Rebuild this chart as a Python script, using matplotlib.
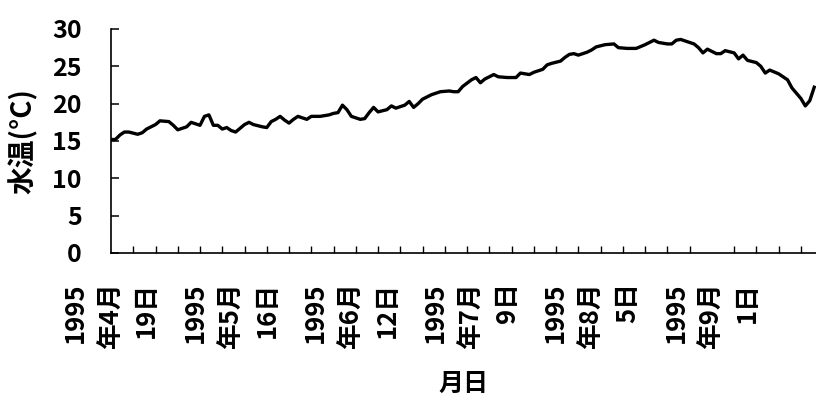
import matplotlib
matplotlib.use("Agg")
import matplotlib.pyplot as plt
from matplotlib.ticker import FixedLocator, MultipleLocator

plt.rcParams['font.family'] = ['Noto Sans CJK JP', 'DejaVu Sans']
plt.rcParams['font.weight'] = 'bold'

# Days since 1995-04-19 and water temperature (°C)
days = [0, 1, 2, 3, 4, 6, 7, 8, 10, 11, 13, 14, 15, 17, 18, 20, 21, 22, 23, 24,
        25, 26, 27, 28, 30, 31, 32, 34, 35, 36, 37, 38, 39, 40, 41, 42, 44, 45,
        47, 49, 50, 51, 52, 53, 54, 56, 57, 58, 59, 60, 62, 63, 64, 66, 67, 68,
        69, 70, 72, 73, 74, 76, 77, 78, 79, 81, 82, 83, 84, 86, 87, 89, 91, 92,
        94, 95, 97, 98, 99, 101, 102, 103, 104, 105, 107, 108, 109, 111, 113,
        114, 116, 118, 120, 122, 123, 125, 126, 127, 128, 129, 131, 132, 133,
        134, 135, 136, 137, 138, 140, 141, 142, 143, 145, 146, 147, 148, 150,
        152, 153, 155, 156, 157, 158]
temps = [15.2, 15.2, 15.8, 16.2, 16.2, 15.9, 16.1, 16.6, 17.2, 17.7, 17.6, 17.1,
         16.5, 16.9, 17.5, 17.1, 18.3, 18.5, 17.1, 17.1, 16.6, 16.8, 16.4, 16.2,
         17.2, 17.5, 17.2, 16.9, 16.8, 17.6, 17.9, 18.3, 17.8, 17.4, 17.9, 18.3,
         17.9, 18.3, 18.3, 18.5, 18.7, 18.8, 19.8, 19.2, 18.3, 17.9, 18.0, 18.8,
         19.5, 18.9, 19.2, 19.7, 19.4, 19.8, 20.3, 19.5, 20.0, 20.6, 21.2, 21.4,
         21.6, 21.7, 21.6, 21.6, 22.3, 23.2, 23.5, 22.8, 23.3, 23.9, 23.6, 23.5,
         23.5, 24.1, 23.9, 24.2, 24.6, 25.2, 25.4, 25.7, 26.2, 26.6, 26.7, 26.5,
         26.9, 27.2, 27.6, 27.9, 28.0, 27.5, 27.4, 27.4, 27.9, 28.5, 28.2, 28.0,
         28.0, 28.5, 28.6, 28.4, 28.0, 27.5, 26.8, 27.3, 27.0, 26.7, 26.7, 27.1,
         26.8, 26.0, 26.5, 25.8, 25.5, 25.0, 24.1, 24.5, 24.0, 23.2, 22.1, 20.7,
         19.7, 20.4, 22.2]

label_days = [0, 27, 54, 81, 108, 135]
label_texts = ["1995\n年4月\n19日", "1995\n年5月\n16日", "1995\n年6月\n12日",
               "1995\n年7月\n9日", "1995\n年8月\n5日", "1995\n年9月\n1日"]
y_ticks = [0, 5, 10, 15, 20, 25, 30]

fig = plt.figure(figsize=(8.16, 4.01), dpi=100)
ax = fig.add_axes([111/816, 1-253/401, 1-111/816, (253-29)/401])

ax.plot(days, temps, color='black', lw=2.4, solid_joinstyle='round')

ax.set_xlim(0, 158.4)
ax.set_ylim(0, 30)
for s in ['top', 'right']:
    ax.spines[s].set_visible(False)
for s in ['left', 'bottom']:
    ax.spines[s].set_linewidth(1.2)

ax.set_yticks(y_ticks)
ax.set_yticklabels([str(v) for v in y_ticks], fontsize=18, fontweight='bold')
ax.tick_params(axis='y', direction='in', length=6, width=1.1, pad=21)

ax.xaxis.set_major_locator(FixedLocator(label_days))
ax.set_xticklabels(label_texts, rotation=90, fontsize=18.5, fontweight='bold',
                   ha='center', va='top', multialignment='right', linespacing=1.42)
ax.xaxis.set_minor_locator(MultipleLocator(5))
ax.tick_params(axis='x', which='major', length=0, pad=21)
ax.tick_params(axis='x', which='minor', direction='in', length=5, width=1.0)

ax.set_ylabel("水温(°C)", fontsize=20, fontweight='bold')
ax.yaxis.set_label_coords((38-111)/705, 0.5)
ax.set_xlabel("月日", fontsize=18, fontweight='bold')
ax.xaxis.set_label_coords(0.5, (253-372)/224)

fig.savefig("out.png", dpi=100)
